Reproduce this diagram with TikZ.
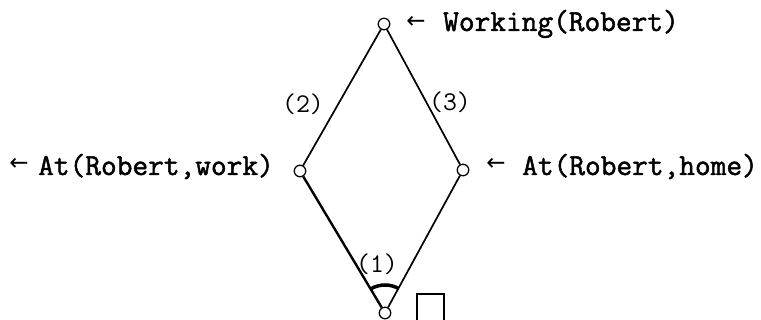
\documentclass[tikz,border=0pt]{standalone}
\usepackage{fontspec}
\newfontfamily\arrowfont{DejaVu Sans}
\newfontfamily\ttheavy[FakeBold=1.6]{Latin Modern Mono}
\begin{document}
\begin{tikzpicture}[x=1pt,y=-1pt,
  pt/.style={circle,draw,line width=1.3pt,minimum size=11.5pt,inner sep=0pt},
  edge/.style={line width=1.7pt},
  lbl/.style={font=\fontsize{30.5}{32}\ttheavy,anchor=base west,inner sep=0pt},
  arr/.style={font=\fontsize{23}{24}\arrowfont,anchor=center,inner sep=0pt},
  num/.style={font=\fontsize{27}{29}\ttfamily,anchor=center,inner sep=0pt}]
\useasboundingbox (0,0) rectangle (761,320);
\node[pt] (top) at (384,24) {};
\node[pt] (left) at (300,171) {};
\node[pt] (right) at (463,170) {};
\node[pt] (bot) at (385,313) {};
\draw[edge] (top) -- (left);
\draw[edge] (top) -- (right);
\draw[edge,line width=2.4pt] (left) -- (bot);
\draw[edge] (right) -- (bot);
\draw[line width=3.5pt] ([shift={(-61:28)}]bot.center) arc[start angle=-61,end angle=-119,radius=28];
\node[arr] (aT) at (416,22) {←};
\node[lbl] (tT) at (443,31) {Working(Robert)};
\node[arr] (aL) at (19,164) {←};
\node[lbl] (tL) at (38,175) {At(Robert,work)};
\node[arr] (aR) at (496,164) {←};
\node[lbl] (tR) at (522,175) {At(Robert,home)};
\node[num] (n2) at (303,104) {(2)};
\node[num] (n3) at (450,102) {(3)};
\node[num] (n1) at (377,264) {(1)};
\draw[line width=2pt] (417,320) -- (417,294) -- (444,294) -- (444,320);
\end{tikzpicture}
\end{document}
